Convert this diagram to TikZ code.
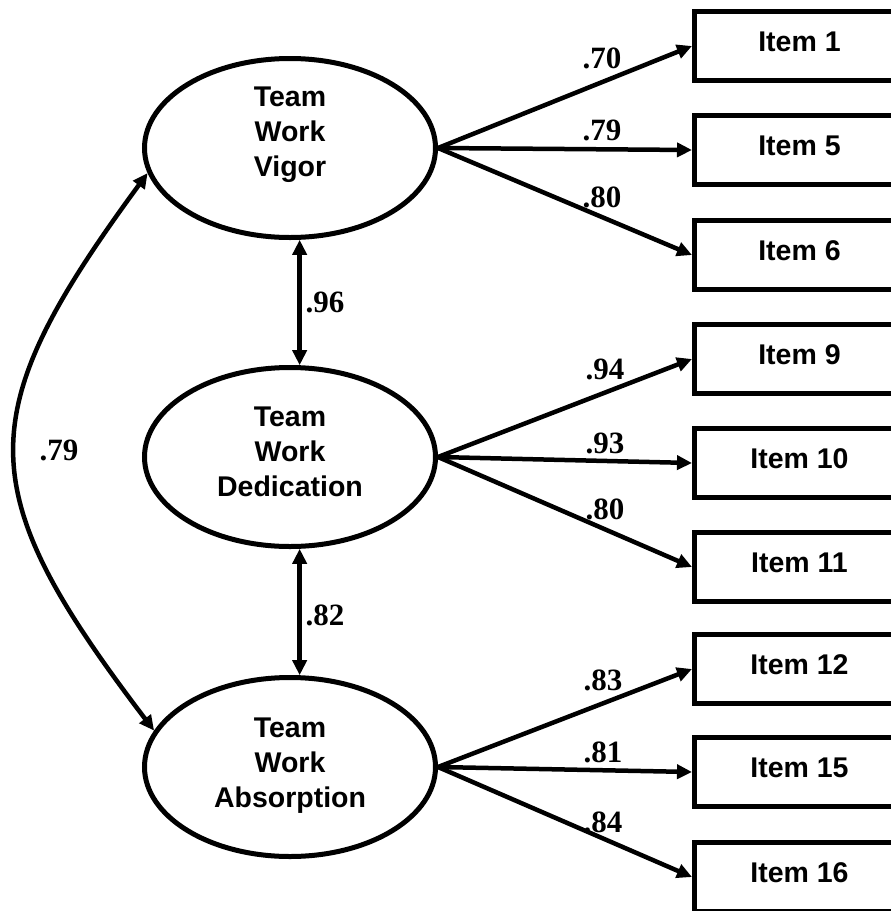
\documentclass[tikz,border=0pt]{standalone}
\usepackage{fontspec}
\setmainfont{Liberation Serif}
\setsansfont{Liberation Sans}
\usetikzlibrary{arrows.meta,shapes.geometric}

\begin{document}
\begin{tikzpicture}[x=1pt,y=-1pt,
  latent/.style={draw,line width=5pt,ellipse,minimum width=291pt,minimum height=179pt,inner sep=0pt},
  lattext/.style={anchor=north,align=center,inner sep=0pt,
    font=\sffamily\bfseries\fontsize{28.5}{35}\selectfont},
  itembox/.style={draw,line width=5pt,rectangle,anchor=west,minimum width=210pt,
    minimum height=69pt,inner sep=0pt,text depth=8pt,
    font=\sffamily\bfseries\fontsize{28.5}{34}\selectfont},
  coef/.style={inner sep=0pt,font=\rmfamily\bfseries\fontsize{31}{36}\selectfont},
  link/.style={line width=4.5pt,-{Triangle[length=15pt,width=14pt]}},
  corr/.style={line width=4.5pt,{Triangle[length=15pt,width=14pt]}-{Triangle[length=15pt,width=14pt]}},
]
\useasboundingbox (0,0) rectangle (891,911);
\fill[white] (0,0) rectangle (891,911);
\clip (0,0) rectangle (891,911);

% latent factors
\node[latent] (vig) at (290,148) {};
\node[latent] (ded) at (290,457) {};
\node[latent] (abs) at (290,767) {};
\node[lattext] (vigt) at (290,87)  {Team\\Work\\Vigor};
\node[lattext] (dedt) at (290,407) {Team\\Work\\Dedication};
\node[lattext] (abst) at (290,718) {Team\\Work\\Absorption};

% observed items
\node[itembox] (i1)  at (692,46)  {Item 1};
\node[itembox] (i5)  at (692,150) {Item 5};
\node[itembox] (i6)  at (692,255) {Item 6};
\node[itembox] (i9)  at (692,359) {Item 9};
\node[itembox] (i10) at (692,463) {Item 10};
\node[itembox] (i11) at (692,567) {Item 11};
\node[itembox] (i12) at (692,669) {Item 12};
\node[itembox] (i15) at (692,772) {Item 15};
\node[itembox] (i16) at (692,877) {Item 16};

% loadings
\draw[link] (vig.east) -- (i1.west);
\draw[link] (vig.east) -- (i5.west);
\draw[link] (vig.east) -- (i6.west);
\draw[link] (ded.east) -- (i9.west);
\draw[link] (ded.east) -- (i10.west);
\draw[link] (ded.east) -- (i11.west);
\draw[link] (abs.east) -- (i12.west);
\draw[link] (abs.east) -- (i15.west);
\draw[link] (abs.east) -- (i16.west);

% factor correlations
\draw[corr] (vig.-84) -- (ded.84);
\draw[corr] (ded.-84) -- (abs.84);
\draw[corr] (vig.190) .. controls (-30,415) and (-30,489) .. (abs.165);

% coefficients
\node[coef] (c1)  at (602,58)  {.70};
\node[coef] (c5)  at (602,130) {.79};
\node[coef] (c6)  at (602,197) {.80};
\node[coef] (c9)  at (605,369) {.94};
\node[coef] (c10) at (605,443) {.93};
\node[coef] (c11) at (605,509) {.80};
\node[coef] (c12) at (603,680) {.83};
\node[coef] (c15) at (603,752) {.81};
\node[coef] (c16) at (603,822) {.84};
\node[coef] (cvd) at (325,302) {.96};
\node[coef] (cda) at (325,615) {.82};
\node[coef] (cva) at (59,450)  {.79};
\end{tikzpicture}
\end{document}
